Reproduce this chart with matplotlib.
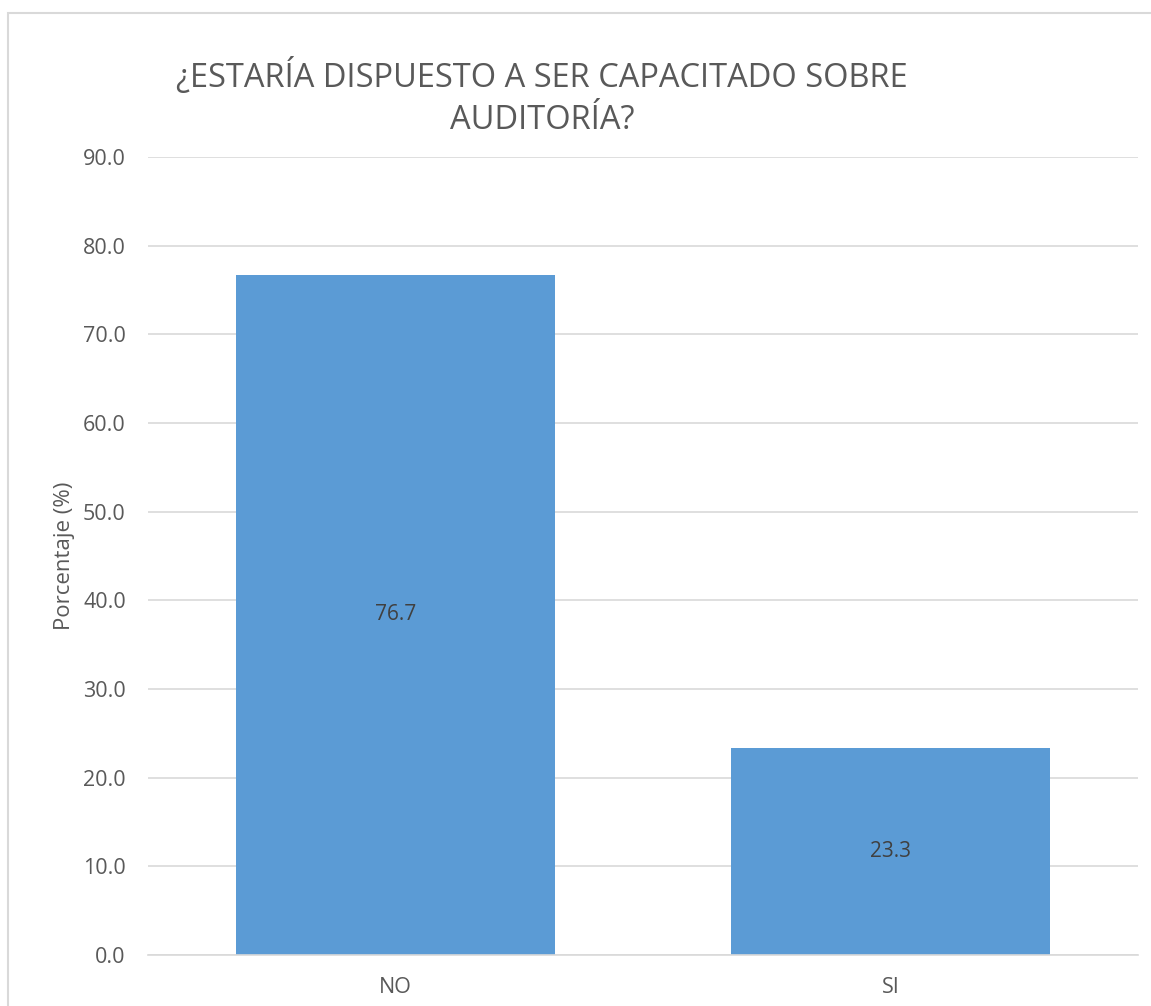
import matplotlib

matplotlib.use("Agg")
import matplotlib.pyplot as plt
from matplotlib.patches import Rectangle

categories = ["NO", "SI"]
percentages = [76.7, 23.3]
y_ticks = [0, 10, 20, 30, 40, 50, 60, 70, 80, 90]

plt.rcParams["font.family"] = ["Open Sans", "DejaVu Sans"]

fig = plt.figure(figsize=(11.51, 10.06), dpi=100)
ax = fig.add_axes([0.1286, 0.0507, 0.8601, 0.7932])

x = range(len(categories))
bars = ax.bar(x, percentages, width=0.646, color="#5B9BD5", zorder=2)
for rect, val in zip(bars, percentages):
    ax.text(rect.get_x() + rect.get_width() / 2, val / 2, f"{val:.1f}",
            ha="center", va="center", fontsize=15, color="#404040")

ax.set_xlim(-0.5, len(categories) - 0.5)
ax.set_ylim(0, 90)
ax.set_yticks(y_ticks)
ax.set_yticklabels([f"{t:.1f}" for t in y_ticks])
ax.set_xticks(list(x))
ax.set_xticklabels(categories)
ax.tick_params(axis="both", length=0, labelsize=15.5, colors="#595959")
ax.tick_params(axis="y", pad=16)
ax.tick_params(axis="x", pad=16)
ax.grid(axis="y", color="#D9D9D9", linewidth=1.2, zorder=0)
for side in ["top", "right", "left"]:
    ax.spines[side].set_visible(False)
ax.spines["bottom"].set_color("#D9D9D9")
ax.spines["bottom"].set_linewidth(1.2)
ax.set_ylabel("Porcentaje (%)", fontsize=16, color="#595959", labelpad=6)

fig.text(0.471, 0.903, "¿ESTARÍA DISPUESTO A SER CAPACITADO SOBRE\nAUDITORÍA?",
         ha="center", va="center", fontsize=23.5, color="#595959", linespacing=1.35)

# chart frame (only top and left edges fall inside the picture)
fig.patches.append(Rectangle((8 / 1151, -0.01), 1.0, 1 - 13 / 1006 + 0.01,
                             transform=fig.transFigure, fill=False,
                             edgecolor="#D9D9D9", linewidth=1.5))

fig.savefig("out.png", dpi=100)
